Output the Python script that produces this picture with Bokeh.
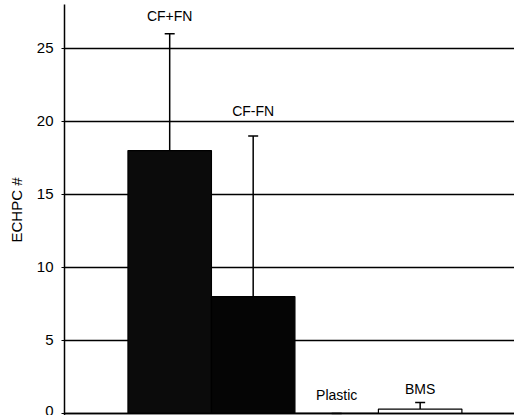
import numpy as np
from bokeh.plotting import figure
from bokeh.models import (ColumnDataSource, Range1d, Span, Whisker, TeeHead,
                          Label, FixedTicker)
from bokeh.embed import file_html
from bokeh.resources import INLINE

# ---- data ----
categories = ["CF+FN", "CF-FN", "Plastic", "BMS"]
means = [18.0, 8.0, 0.0, 0.3]
errors = [8.0, 11.0, 0.0, 0.45]
y_ticks = [0, 5, 10, 15, 20, 25]

# ---- styles ----
fill_colors = ["#0b0b0b", "#050505", "white", "white"]
label_offsets = [10, 17, 10, 6]   # px above top of error bar
FONT = "Liberation Sans"

xs = [i + 0.5 for i in range(len(categories))]
tops = [m + e for m, e in zip(means, errors)]

src = ColumnDataSource(dict(x=xs, cat=categories, m=means, e=errors,
                            top=tops, fill=fill_colors))

p = figure(width=514, height=415, output_backend="svg", toolbar_location=None,
           x_range=Range1d(-0.76, 4.63), y_range=Range1d(-0.14, 28.0),
           min_border_left=64, min_border_right=0, min_border_top=4,
           min_border_bottom=0)
p.outline_line_color = None
p.background_fill_color = "white"
p.border_fill_color = "white"

p.xaxis.visible = False
p.xgrid.visible = False

p.yaxis.ticker = FixedTicker(ticks=y_ticks)
p.yaxis.minor_tick_line_color = None
p.yaxis.major_tick_out = 3
p.yaxis.major_tick_in = 0
p.yaxis.axis_line_color = "black"
p.yaxis.axis_line_width = 1.5
p.yaxis.major_tick_line_color = "black"
p.yaxis.major_label_standoff = 8
p.yaxis.major_label_text_font = FONT
p.yaxis.major_label_text_font_size = "15px"
p.yaxis.major_label_text_color = "black"
p.yaxis.axis_label = "ECHPC #"
p.yaxis.axis_label_standoff = 9
p.yaxis.axis_label_text_font = FONT
p.yaxis.axis_label_text_font_size = "15px"
p.yaxis.axis_label_text_font_style = "normal"
p.yaxis.axis_label_text_color = "black"

p.ygrid.ticker = FixedTicker(ticks=y_ticks)
p.ygrid.grid_line_color = "black"
p.ygrid.grid_line_width = 1.3

p.vbar(x="x", top="m", bottom=0, width=1.0, fill_color="fill",
       line_color="black", line_width=1.2, source=src)

p.add_layout(Span(location=0, dimension="width", line_color="black",
                  line_width=1.5))

w = Whisker(base="x", upper="top", lower="m", source=src,
            line_color="black", line_width=1.5,
            upper_head=TeeHead(size=10, line_color="black", line_width=1.5),
            lower_head=None)
p.add_layout(w)

for x, cat, t, off in zip(xs, categories, tops, label_offsets):
    p.add_layout(Label(x=x, y=t, text=cat, text_align="center",
                       text_baseline="bottom", y_offset=off,
                       text_font=FONT, text_font_size="14px",
                       text_color="black"))

open("out.html", "w").write(file_html(p, INLINE))
